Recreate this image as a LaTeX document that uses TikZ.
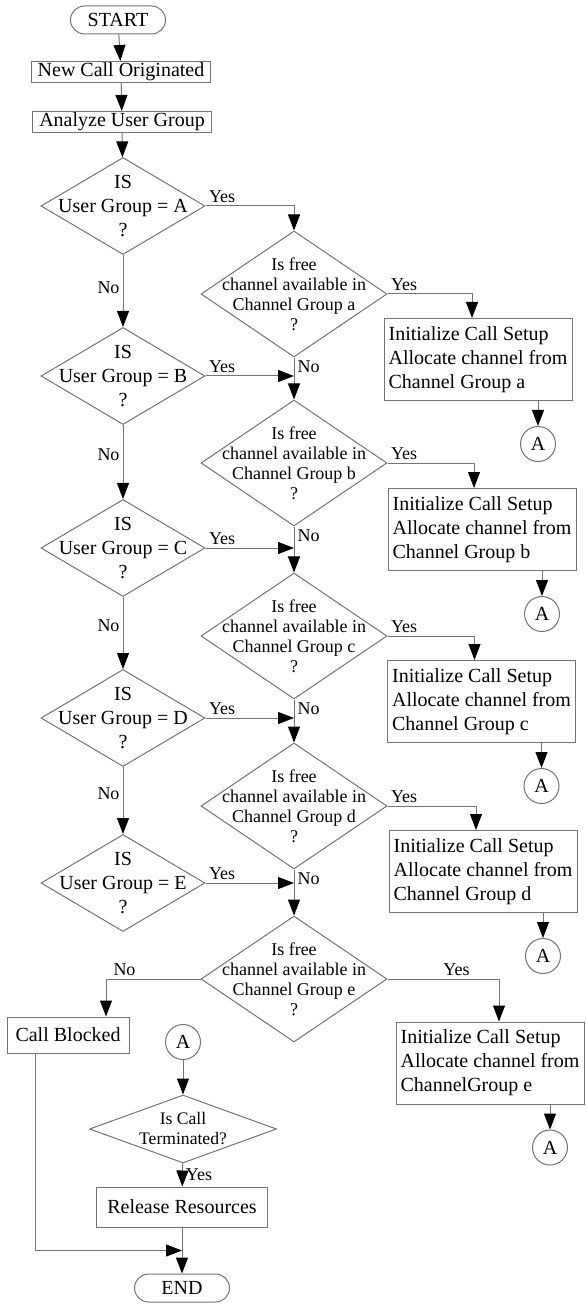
\documentclass[tikz,border=0pt]{standalone}
\usepackage{fontspec}
\setmainfont{Liberation Serif}
\usetikzlibrary{calc,shapes.geometric,arrows.meta}

\tikzset{
	ln/.style={draw=black!55,line width=0.5pt},
	flow/.style={ln,-{Triangle[length=8pt,width=6pt,color=black]}},
	endbox/.style={ln,rectangle,rounded corners=7pt,minimum width=47.5pt,minimum height=14pt,inner sep=0pt},
	procbox/.style={ln,rectangle,minimum width=89.5pt,minimum height=10.5pt,inner sep=0pt},
	setbox/.style={ln,rectangle,align=left,inner sep=1.5pt,minimum width=94pt,minimum height=41pt},
	ugdec/.style={ln,diamond,minimum width=82pt,minimum height=48.5pt,inner sep=0pt},
	chdec/.style={ln,diamond,minimum width=93pt,minimum height=63pt,inner sep=0pt},
	dectxt/.style={align=center,inner sep=0pt},
	chtxt/.style={dectxt,font=\fontsize{9}{10}\selectfont},
	con/.style={ln,circle,minimum size=17.5pt,inner sep=0pt},
	lab/.style={font=\fontsize{9}{10}\selectfont,inner sep=1.5pt},
}

\newcommand{\makechan}[4]{
	\node (ch#1) at (#2) [chdec] {};
	\node (tch#1) at (ch#1) [chtxt] {Is free\\channel available in\\Channel Group #1\\?};
	\node (set#1) at (#3) [setbox] {Initialize Call Setup\\Allocate channel from\\#4};
	\node (con#1) at ($(set#1.south)+(60,43)$) [con] {A};
	\draw[flow] (set#1.south -| con#1) -- (con#1);
}

\begin{document}
\begin{tikzpicture}[x=0.5pt,y=-0.5pt,font=\fontsize{10}{12}\selectfont]
	\useasboundingbox (0,0) rectangle (585,1304);
	\node (start) at (118,20) [endbox] {START};
	\node (nco) at (121,72) [procbox] {New Call Originated};
	\node (aug) at (122,122) [procbox] {Analyze User Group};
	\node (ugA) at (123,206) [ugdec] {};
	\node (tugA) at (ugA) [dectxt] {IS\\User Group = A\\?};
	\node (ugB) at (123,376) [ugdec] {};
	\node (tugB) at (ugB) [dectxt] {IS\\User Group = B\\?};
	\node (ugC) at (123,548) [ugdec] {};
	\node (tugC) at (ugC) [dectxt] {IS\\User Group = C\\?};
	\node (ugD) at (123,718) [ugdec] {};
	\node (tugD) at (ugD) [dectxt] {IS\\User Group = D\\?};
	\node (ugE) at (123,883) [ugdec] {};
	\node (tugE) at (ugE) [dectxt] {IS\\User Group = E\\?};

	\makechan{a}{294,294}{478,359.5}{Channel Group a}
	\makechan{b}{294,463}{482,529.5}{Channel Group b}
	\makechan{c}{294,636}{481.5,701.5}{Channel Group c}
	\makechan{d}{294,806}{483,871.5}{Channel Group d}
	\makechan{e}{294,979}{490,1063}{ChannelGroup e}

	\node (callb) at (68,1035) [procbox,minimum width=61pt,minimum height=18pt] {Call Blocked};
	\node (conL) at (183,1042) [con] {A};
	\node (ctm) at (183,1129) [ln,diamond,minimum width=93.5pt,minimum height=34pt,inner sep=0pt] {};
	\node (tctm) at (ctm) [dectxt,font=\fontsize{8.8}{10}\selectfont] {Is Call\\Terminated?};
	\node (rel) at (182,1207) [procbox,minimum width=85.5pt,minimum height=20pt] {Release Resources};
	\node (endn) at (182,1288) [endbox] {END};
	\coordinate (jn) at ($(rel.south)!0.5!(endn.north)$);

	\draw[flow] (start) -- (nco);
	\draw[flow] (nco) -- (aug);
	\draw[flow] (aug) -- (ugA);
	\draw[flow] (ugA) -- node[lab,left,pos=0.45] {No} (ugB);
	\draw[flow] (ugB) -- node[lab,left,pos=0.4] {No} (ugC);
	\draw[flow] (ugC) -- node[lab,left,pos=0.4] {No} (ugD);
	\draw[flow] (ugD) -- node[lab,left,pos=0.4] {No} (ugE);

	\draw[flow] (ugA.east) node[lab,anchor=south west] {Yes} -| (cha.north);
	\draw[flow] (ugB.east) node[lab,anchor=south west] {Yes} -- (ugB.east -| cha.south);
	\draw[flow] (ugC.east) node[lab,anchor=south west] {Yes} -- (ugC.east -| chb.south);
	\draw[flow] (ugD.east) node[lab,anchor=south west] {Yes} -- (ugD.east -| chc.south);
	\draw[flow] (ugE.east) node[lab,anchor=south west] {Yes} -- (ugE.east -| chd.south);

	\draw[flow] (cha) -- node[lab,pos=0,anchor=north west] {No} (chb);
	\draw[flow] (chb) -- node[lab,pos=0,anchor=north west] {No} (chc);
	\draw[flow] (chc) -- node[lab,pos=0,anchor=north west] {No} (chd);
	\draw[flow] (chd) -- node[lab,pos=0,anchor=north west] {No} (che);

	\draw[flow] (cha.east) node[lab,anchor=south west] {Yes} -| ($(seta.north)+(-6,0)$);
	\draw[flow] (chb.east) node[lab,anchor=south west] {Yes} -| ($(setb.north)+(-8,0)$);
	\draw[flow] (chc.east) node[lab,anchor=south west] {Yes} -| ($(setc.north)+(-7,0)$);
	\draw[flow] (chd.east) node[lab,anchor=south west] {Yes} -| ($(setd.north)+(-7,0)$);
	\draw[flow] (che.east) -| node[lab,pos=0.5,anchor=south east,xshift=-13pt] {Yes} ($(sete.north)+(9,0)$);
	\draw[flow] (che.west) -| node[lab,pos=0.5,anchor=south west,xshift=2pt] {No} ($(callb.north)+(38,0)$);

	\draw[flow] (conL) -- (ctm);
	\draw[flow] (ctm) -- node[lab,right,pos=0.5] {Yes} (rel);
	\draw[flow] (rel) -- (endn);
	\draw[flow] ($(callb.south west)+(29,0)$) |- (jn);
\end{tikzpicture}
\end{document}
